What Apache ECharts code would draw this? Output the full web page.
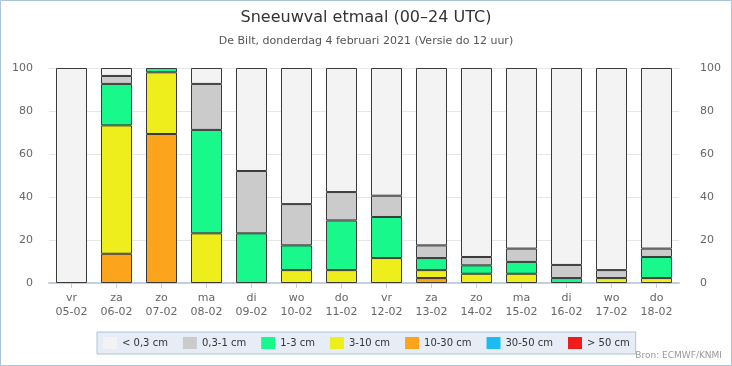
<!DOCTYPE html>
<html><head><meta charset="utf-8">
<script src="https://cdn.jsdelivr.net/npm/echarts@6/dist/echarts.min.js"></script>
<style>html,body{margin:0;padding:0;background:#fff}#c{width:732px;height:366px}</style>
</head><body><div id="c"></div>
<script>
const days = ['vr','za','zo','ma','di','wo','do','vr','za','zo','ma','di','wo','do'];
const dates = ['05-02','06-02','07-02','08-02','09-02','10-02','11-02','12-02','13-02','14-02','15-02','16-02','17-02','18-02'];
const yTicks = [0,20,40,60,80,100];
const seriesNames = ['< 0,3 cm','0,3-1 cm','1-3 cm','3-10 cm','10-30 cm','30-50 cm','> 50 cm'];
const seriesColors = ['#f3f3f3','#cbcbcb','#19f98b','#eeee1c','#fca51c','#1cbcf3','#f01c1c'];
const lt03   = [100, 3.7, 0, 7.4, 47.9, 63.3, 57.7, 59.4, 82.5, 87.9, 84.0, 91.6, 94.0, 84.0];
const s03_1  = [0, 3.7, 0, 21.4, 29.0, 19.2, 13.2, 9.9, 5.9, 3.9, 6.2, 6.1, 3.7, 3.9];
const s1_3   = [0, 19.3, 2.0, 48.1, 23.1, 11.5, 23.1, 19.1, 5.6, 3.9, 5.5, 2.3, 0, 9.8];
const s3_10  = [0, 59.7, 28.7, 23.1, 0, 6.0, 6.0, 11.6, 3.7, 4.3, 4.3, 0, 2.3, 2.3];
const s10_30 = [0, 13.6, 69.3, 0, 0, 0, 0, 0, 2.3, 0, 0, 0, 0, 0];
const s30_50 = [0,0,0,0,0,0,0,0,0,0,0,0,0,0];
const s50    = [0,0,0,0,0,0,0,0,0,0,0,0,0,0];
const seriesData = [lt03, s03_1, s1_3, s3_10, s10_30, s30_50, s50];

const FONT = 'DejaVu Sans';
const chart = echarts.init(document.getElementById('c'));
const series = [];
for (let i = seriesData.length - 1; i >= 0; i--) {
  series.push({
    name: seriesNames[i], type: 'bar', stack: 'sn', barWidth: 31,
    data: seriesData[i].map(v => v === 0 ? null : v),
    itemStyle: { color: seriesColors[i], borderColor: '#3a3a3a', borderWidth: 1 },
    emphasis: { disabled: true }
  });
}
chart.setOption({
  animation: false,
  textStyle: { fontFamily: FONT },
  graphic: [
    { type: 'rect', shape: { x: 0.5, y: 0.5, width: 731, height: 365 }, style: { fill: 'none', stroke: '#a9c3da', lineWidth: 1 }, silent: true },
    { type: 'text', right: 10, top: 351, style: { text: 'Bron: ECMWF/KNMI', fill: '#999', font: '9px "DejaVu Sans"' } }
  ],
  title: {
    text: 'Sneeuwval etmaal (00–24 UTC)',
    subtext: 'De Bilt, donderdag 4 februari 2021 (Versie do 12 uur)',
    left: 'center', top: 5, itemGap: 10,
    textStyle: { fontFamily: FONT, fontSize: 16, fontWeight: 'normal', color: '#333' },
    subtextStyle: { fontFamily: FONT, fontSize: 11, color: '#555' }
  },
  legend: {
    left: 97, top: 332, padding: [5, 6, 5, 6],
    data: seriesNames.slice(),
    itemWidth: 14, itemHeight: 12, itemGap: 15,
    icon: 'rect',
    backgroundColor: '#e6edf7', borderColor: '#b0c3db', borderWidth: 1,
    itemStyle: { borderWidth: 0 },
    textStyle: { fontFamily: FONT, fontSize: 10, color: '#333' },
    selectedMode: false
  },
  grid: { left: 49, right: 53, top: 68, bottom: 83 },
  xAxis: {
    type: 'category', data: days.map((d, i) => d + '\n' + dates[i]),
    axisLine: { lineStyle: { color: '#c0d0e0', width: 2 } },
    axisTick: { show: true, alignWithLabel: true, length: 5, lineStyle: { color: '#c0d0e0' } },
    axisLabel: { color: '#666', fontSize: 11, lineHeight: 14, margin: 8, fontFamily: FONT }
  },
  yAxis: [
    { type: 'value', min: 0, max: 100, interval: 20,
      axisLabel: { color: '#666', fontSize: 11, margin: 16, fontFamily: FONT, formatter: v => yTicks.includes(v) ? String(v) : '' },
      splitLine: { lineStyle: { color: '#e6e6e6' } }, axisLine: { show: false }, axisTick: { show: false } },
    { type: 'value', min: 0, max: 100, interval: 20, position: 'right',
      axisLabel: { color: '#666', fontSize: 11, margin: 21, fontFamily: FONT },
      splitLine: { show: false }, axisLine: { show: false }, axisTick: { show: false } }
  ],
  series: series
});
</script></body></html>
